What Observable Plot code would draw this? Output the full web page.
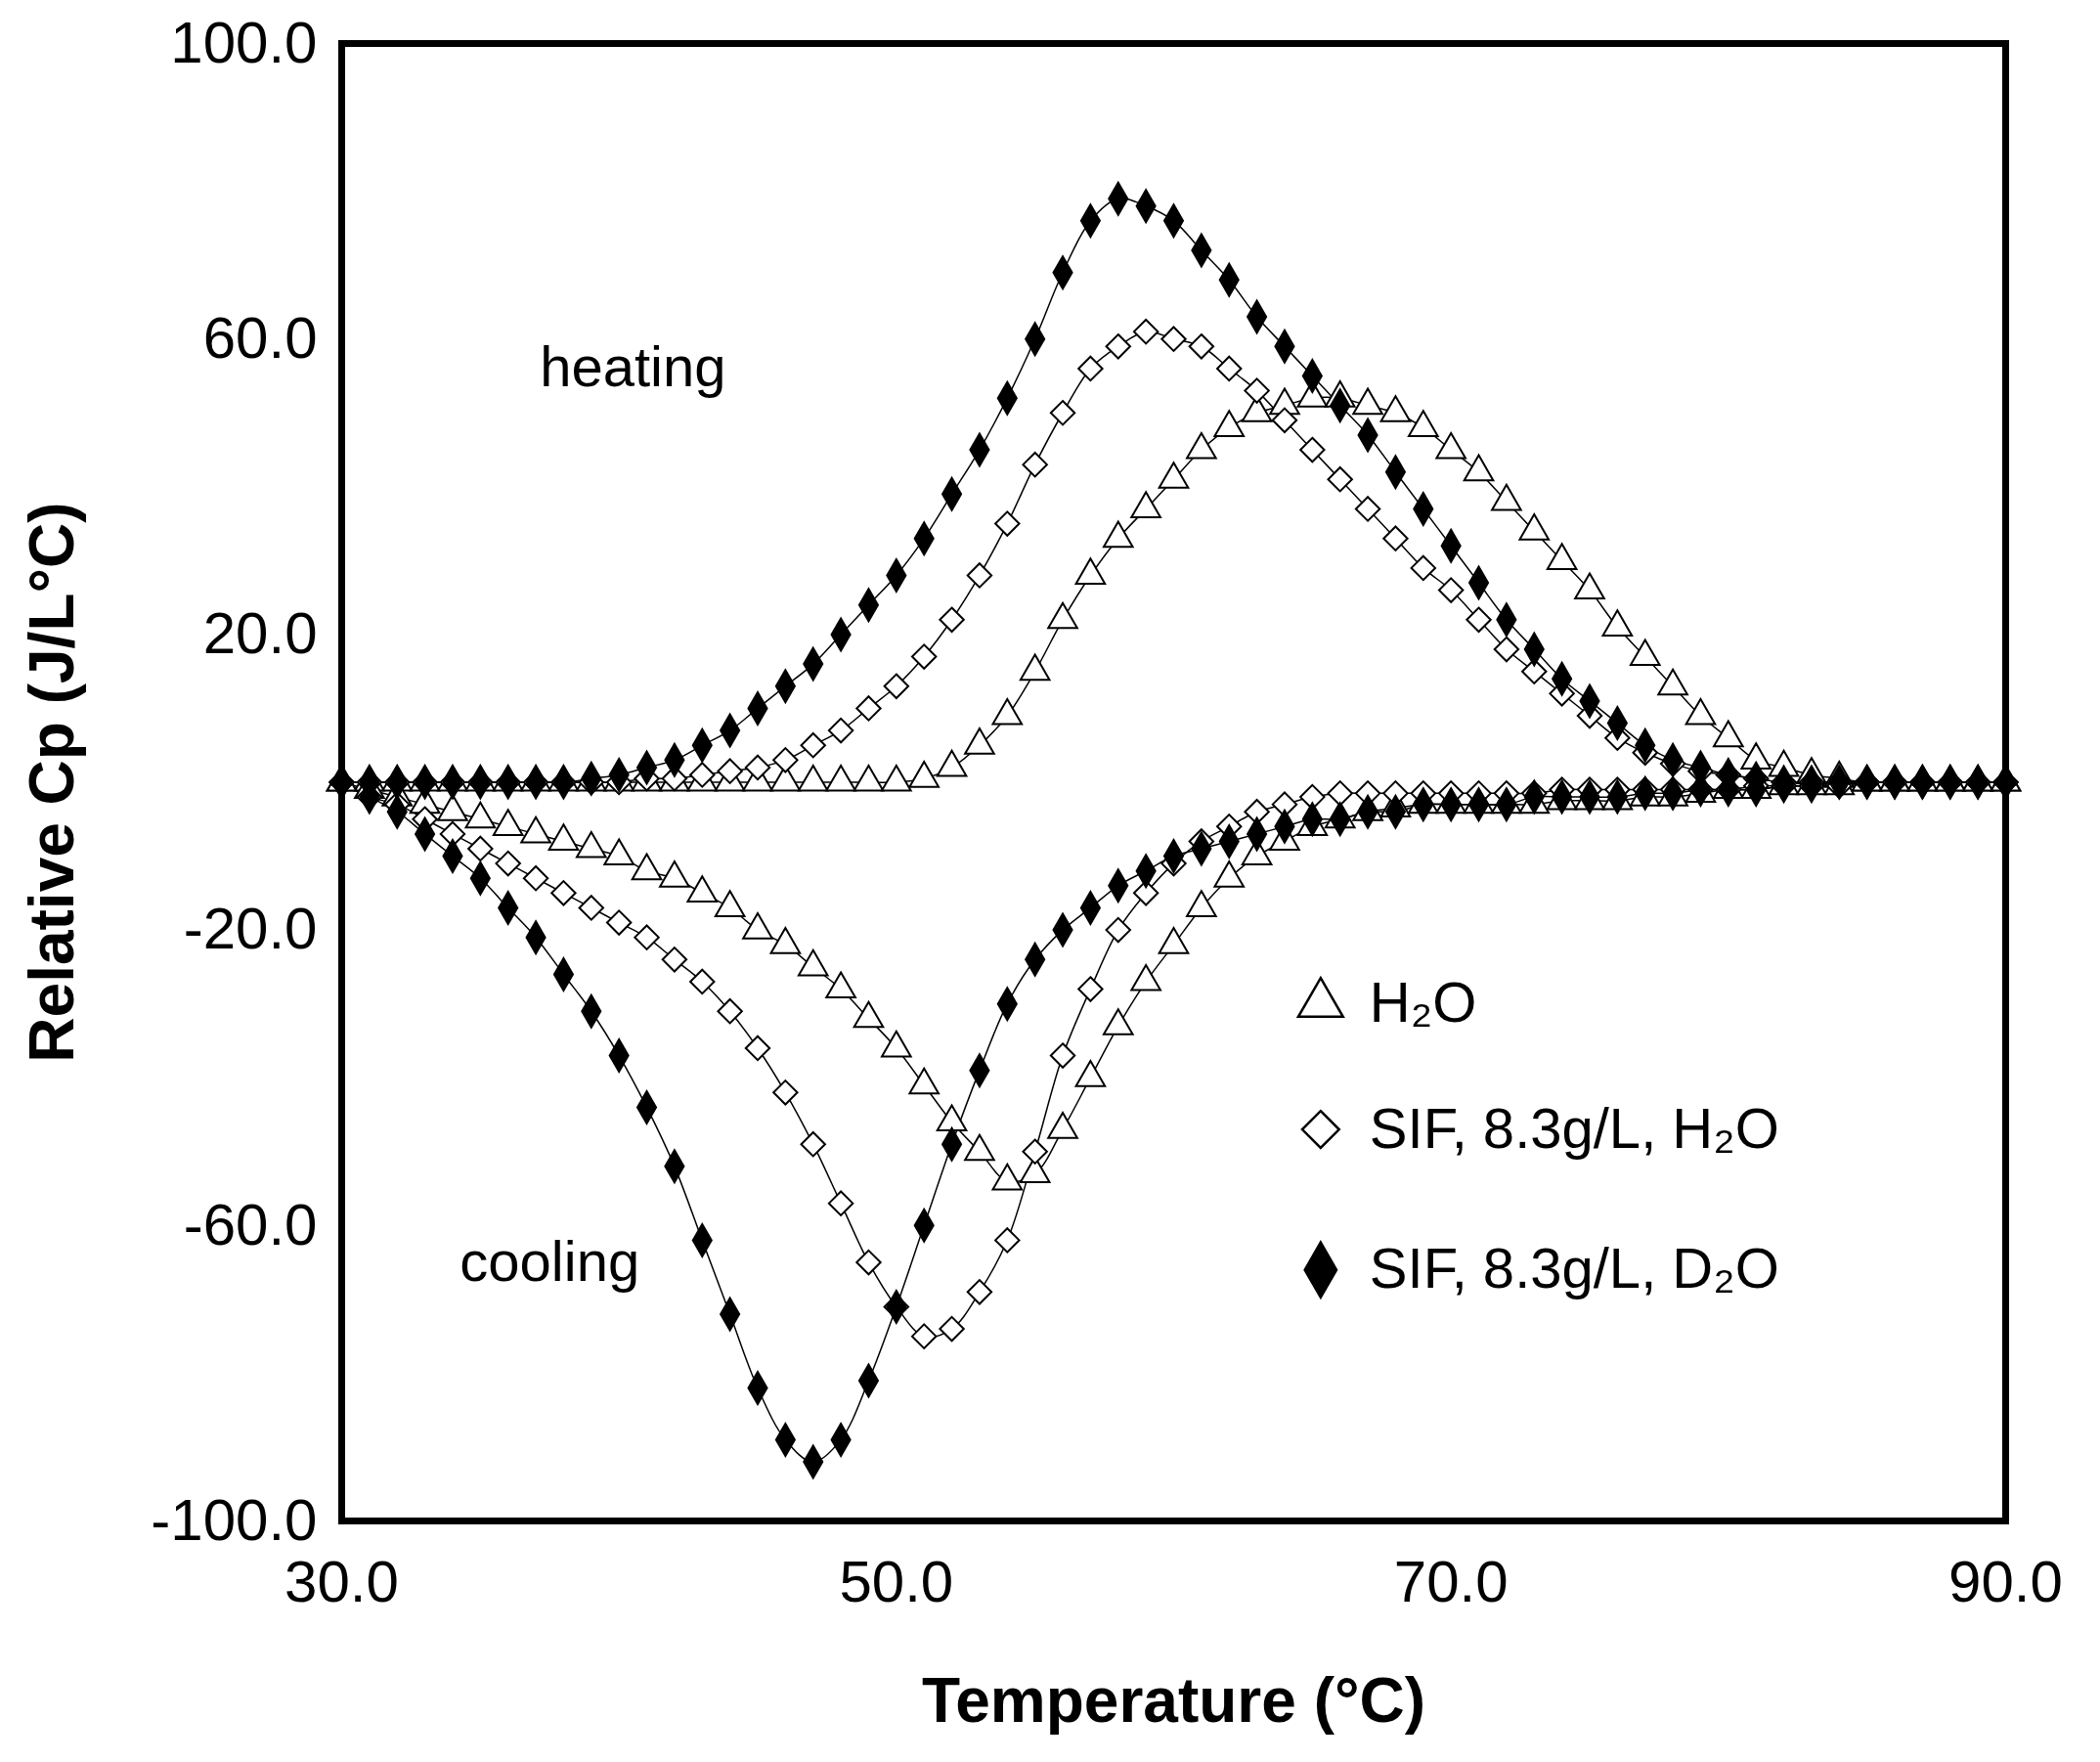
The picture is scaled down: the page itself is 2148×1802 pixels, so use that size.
<!DOCTYPE html>
<html><head><meta charset="utf-8">
<script src="https://cdn.jsdelivr.net/npm/d3@7"></script>
<script src="https://cdn.jsdelivr.net/npm/@observablehq/plot@0.6"></script>
<style>body{margin:0;background:#fff;font-family:Arial,"Liberation Sans",sans-serif}</style>
</head><body><div id="c"></div>
<script>
const T = d3.range(30, 91); // temperatures 30..90
const heatD2O = [0,0,0,0,0,0,0,0,0,0.5,1,2,3,5,7,10,13,16,20,24,28,33,39,45,52,60,69,76,79,78,76,72,68,63,59,55,51,47,42,37,32,27,22,18,14,11,8,5,3,2,1,0.5,0,0,0,0,0,0,0,0,0];
const heatSIF = [0,0,0,0,0,0,0,0,0,0,0,0.5,0.5,1,1.5,2,3,5,7,10,13,17,22,28,35,43,50,56,59,61,60,59,56,53,49,45,41,37,33,29,26,22,18,15,12,9,6,4,2.5,1.5,1,0.5,0,0,0,0,0,0,0,0,0];
const heatH2O = [0,0,0,0,0,0,0,0,0,0,0,0,0,0,0,0,0,0,0,0,0,0.5,2,5,9,15,22,28,33,37,41,45,48,50,51,52,52,51,50,48,45,42,38,34,30,26,21,17,13,9,6,3,2,1,0.5,0,0,0,0,0,0];
const coolD2O = [0,-2,-4,-7,-10,-13,-17,-21,-26,-31,-37,-44,-52,-62,-72,-82,-89,-92,-89,-81,-71,-60,-49,-39,-30,-24,-20,-17,-14,-12,-10,-9,-8,-7,-6,-5,-5,-4,-4,-3,-3,-3,-3,-2,-2,-2,-2,-1.5,-1.5,-1,-1,-1,-0.5,-0.5,0,0,0,0,0,0,0];
const coolSIF = [0,-2,-3,-5,-7,-9,-11,-13,-15,-17,-19,-21,-24,-27,-31,-36,-42,-49,-57,-65,-71,-75,-74,-69,-62,-50,-37,-28,-20,-15,-11,-8,-6,-4,-3,-2,-1.5,-1.5,-1.5,-1.5,-1.5,-1.5,-1.5,-1.5,-1,-1,-1,-1,-1,-1,-1,-0.5,-0.5,-0.5,-0.5,0,0,0,0,0,0];
const coolH2O = [0,-1,-2,-3,-4,-5,-6,-7,-8,-9,-10,-12,-13,-15,-17,-20,-22,-25,-28,-32,-36,-41,-46,-50,-54,-53,-47,-40,-33,-27,-22,-17,-13,-10,-8,-6,-5,-4,-3.5,-3,-3,-3,-3,-3,-2.5,-2.5,-2.5,-2,-2,-1.5,-1,-1,-0.5,-0.5,-0.5,0,0,0,0,0,0];
const xTicks = [30,50,70,90];
const yTicks = [-100,-60,-20,20,60,100];
const legendLabels = ["H₂O","SIF, 8.3g/L, H₂O","SIF, 8.3g/L, D₂O"];
const legendX = [65.3,65.3,65.3];
const legendY = [-30,-47,-66];
const legendSym = ["triangle","diamond2","diamond"];
const notes = [{x:40.5,y:56,t:"heating"},{x:37.5,y:-65,t:"cooling"}];

const mk = (arr)=>T.map((t,i)=>({x:t,y:arr[i]}));
const series = [
  {d:mk(heatH2O),sym:"triangle",fill:"white",r:11},
  {d:mk(coolH2O),sym:"triangle",fill:"white",r:11},
  {d:mk(heatSIF),sym:"diamond2",fill:"white",r:11},
  {d:mk(coolSIF),sym:"diamond2",fill:"white",r:11},
  {d:mk(heatD2O),sym:"diamond",fill:"black",r:10},
  {d:mk(coolD2O),sym:"diamond",fill:"black",r:10},
];
const marks = [];
for (const s of series) marks.push(Plot.line(s.d,{x:"x",y:"y",stroke:"black",strokeWidth:1.5,curve:"catmull-rom"}));
for (const s of series) marks.push(Plot.dot(s.d,{x:"x",y:"y",symbol:()=>s.sym,r:s.r,stroke:"black",strokeWidth:2,fill:s.fill}));
const leg = legendLabels.map((l,i)=>({x:legendX[i],y:legendY[i],l,s:legendSym[i]}));
marks.push(Plot.dot(leg,{x:"x",y:"y",symbol:"s",r:17,stroke:"black",strokeWidth:2.5,fill:d=>d.s==="diamond"?"black":"white"}));
marks.push(Plot.text(leg,{x:"x",y:"y",text:"l",dx:50,textAnchor:"start",fontSize:58}));
marks.push(Plot.text(notes,{x:"x",y:"y",text:"t",fontSize:58}));
marks.push(Plot.frame({stroke:"black",strokeWidth:7}));

const fmt = d => d.toFixed(1);
const chart = Plot.plot({
  width:2148,height:1802,marginLeft:349,marginRight:97,marginTop:44,marginBottom:247,
  style:{fontFamily:"Arial, 'Liberation Sans', sans-serif",fontSize:"60px",color:"black",background:"white"},
  symbol:{type:"identity"},
  x:{domain:[30,90],ticks:xTicks,tickFormat:fmt,tickSize:0,tickPadding:40,label:"Temperature (°C)",labelArrow:"none",labelAnchor:"center",labelOffset:205},
  y:{domain:[-100,100],ticks:yTicks,tickFormat:fmt,tickSize:0,tickPadding:25,label:"Relative Cp (J/L°C)",labelArrow:"none",labelAnchor:"center",labelOffset:320},
  marks
});
chart.querySelectorAll("g[aria-label='x-axis label'] text, g[aria-label='y-axis label'] text").forEach(t=>{t.setAttribute("font-weight","bold");t.setAttribute("font-size","64");});
document.getElementById("c").appendChild(chart);
</script></body></html>
